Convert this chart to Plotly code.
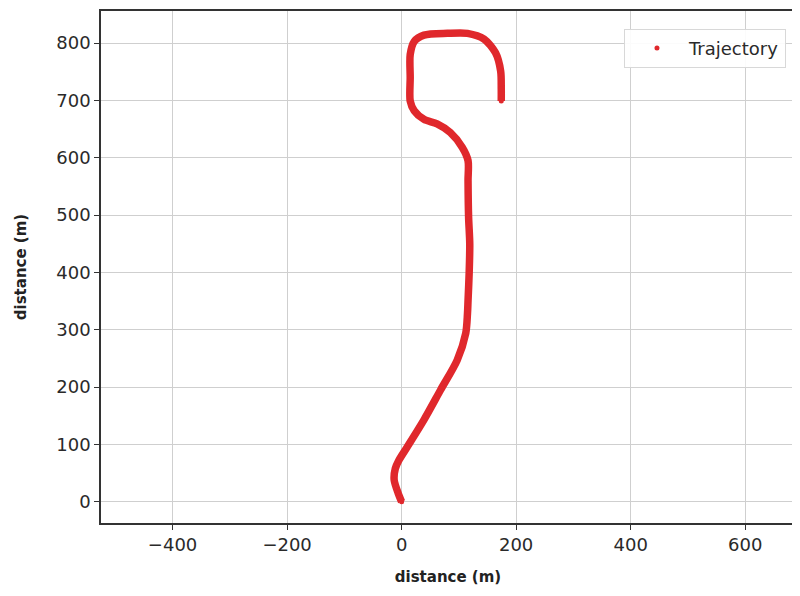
import plotly.graph_objects as go

# Trajectory waypoints (metres)
traj_x = [0, -6, -13, -11, -5, 10, 39, 68, 97, 112, 115, 116, 118, 119, 117, 116, 116,
          106, 85, 62, 39, 22, 15, 15, 15, 22, 39, 80, 115, 144, 164, 173, 174, 174]
traj_y = [0, 15, 38, 58, 72, 96, 143, 195, 247, 294, 328, 351, 400, 450, 496, 560, 595,
          618, 644, 659, 667, 682, 699, 740, 780, 803, 814, 817, 817, 807, 783, 751, 720, 699]

x_ticks = [-400, -200, 0, 200, 400, 600]
y_ticks = [0, 100, 200, 300, 400, 500, 600, 700, 800]

RED = "#e0282c"
FONT = "DejaVu Sans"

fig = go.Figure()
fig.add_trace(go.Scatter(
    x=traj_x, y=traj_y, mode="lines",
    line=dict(color=RED, width=7.5, shape="spline", smoothing=0.8),
    showlegend=False, hoverinfo="skip",
))
fig.add_trace(go.Scatter(
    x=traj_x, y=traj_y, mode="markers", name="Trajectory",
    marker=dict(color=RED, size=5),
))

axis_common = dict(
    showgrid=True, gridcolor="#cfcfcf", gridwidth=1.2,
    showline=True, linecolor="#333333", linewidth=1.5, mirror=True,
    ticks="outside", ticklen=5, tickcolor="#333333",
    zeroline=False, automargin=False,
    tickfont=dict(family=FONT, size=18, color="#2a2a2a"),
)

fig.update_xaxes(range=[-525, 687], tickvals=x_ticks,
                 title=dict(text="<b>distance (m)</b>", font=dict(family=FONT, size=15, color="#222222"), standoff=17),
                 **axis_common)
fig.update_yaxes(range=[-37, 856], tickvals=y_ticks,
                 title=dict(text="<b>distance (m)</b>", font=dict(family=FONT, size=15, color="#222222"), standoff=26),
                 **axis_common)

fig.update_layout(
    width=800, height=596,
    margin=dict(l=93, r=13, t=3, b=81),
    plot_bgcolor="white", paper_bgcolor="white",
    font=dict(family=FONT, color="#333333"),
    legend=dict(x=0.987, y=0.965, xanchor="right", yanchor="top",
                itemwidth=54,
                bgcolor="rgba(255,255,255,0.9)", bordercolor="#d8d8d8", borderwidth=1,
                font=dict(family=FONT, size=18, color="#2a2a2a")),
)

fig.write_html("out.html")
